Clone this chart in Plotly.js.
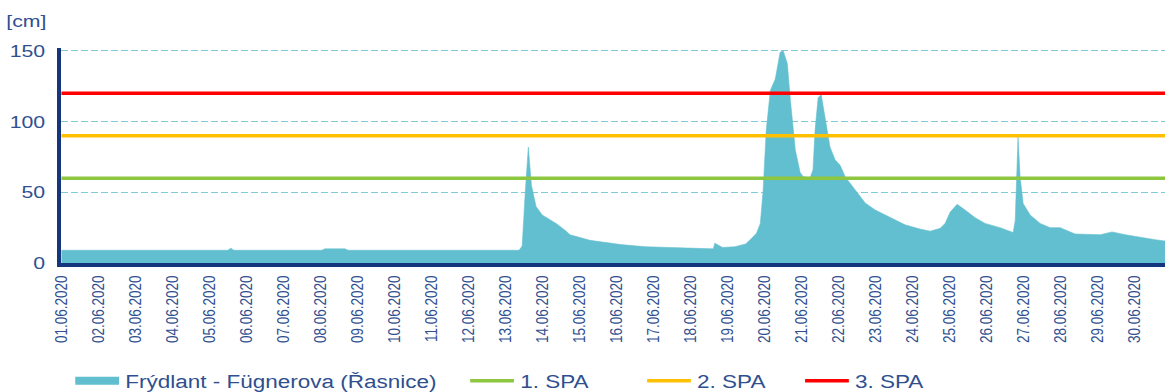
<!DOCTYPE html>
<html>
<head>
<meta charset="utf-8">
<script src="https://cdn.plot.ly/plotly-3.0.1.min.js"></script>
<style>
  html, body { margin: 0; padding: 0; background: #ffffff; overflow: hidden; }
  /* the reference picture is horizontally stretched by 1.25 */
  #chart { width: 932px; height: 400px; transform: scaleX(1.25); transform-origin: 0 0; }
</style>
</head>
<body>
<div id="chart"></div>
<script>
// ---- data ----
const seriesName = 'Frýdlant - Fügnerova (Řasnice)';
const times = [
  '2020-06-01 00:00','2020-06-05 12:00','2020-06-05 14:00','2020-06-05 16:00',
  '2020-06-08 01:00','2020-06-08 03:00','2020-06-08 16:00','2020-06-08 18:00',
  '2020-06-13 09:00','2020-06-13 11:00','2020-06-13 13:00','2020-06-13 15:00',
  '2020-06-13 17:00','2020-06-13 20:00','2020-06-14 00:00','2020-06-14 06:00',
  '2020-06-14 09:00','2020-06-14 15:00','2020-06-14 18:00','2020-06-15 07:00',
  '2020-06-15 14:00','2020-06-16 03:00','2020-06-16 19:00','2020-06-17 18:00',
  '2020-06-18 13:00','2020-06-18 15:00','2020-06-18 16:00','2020-06-18 21:00',
  '2020-06-19 05:00','2020-06-19 12:00','2020-06-19 14:30','2020-06-19 19:00',
  '2020-06-19 21:30','2020-06-19 23:20','2020-06-20 01:20','2020-06-20 04:00',
  '2020-06-20 07:10','2020-06-20 10:20','2020-06-20 12:20','2020-06-20 15:00',
  '2020-06-20 16:50','2020-06-20 20:10','2020-06-20 23:20','2020-06-21 01:20',
  '2020-06-21 05:50','2020-06-21 07:40','2020-06-21 09:00','2020-06-21 11:00',
  '2020-06-21 13:00','2020-06-21 15:30','2020-06-21 18:40','2020-06-21 22:00',
  '2020-06-22 01:20','2020-06-22 04:30','2020-06-22 11:00','2020-06-22 17:30',
  '2020-06-23 00:00','2020-06-23 09:40','2020-06-23 19:20','2020-06-24 05:00',
  '2020-06-24 11:40','2020-06-24 18:10','2020-06-24 21:20','2020-06-25 00:40',
  '2020-06-25 05:10','2020-06-25 10:20','2020-06-25 16:50','2020-06-25 23:20',
  '2020-06-26 09:00','2020-06-26 17:30','2020-06-26 18:50','2020-06-26 20:40',
  '2020-06-26 22:00','2020-06-27 00:00','2020-06-27 04:30','2020-06-27 11:00',
  '2020-06-27 17:30','2020-06-28 00:00','2020-06-28 09:40','2020-06-29 02:00',
  '2020-06-29 09:40','2020-06-29 18:10','2020-06-30 04:00','2020-06-30 13:40',
  '2020-06-30 20:00'
];
const levels = [
  9, 9, 10.5, 9,
  9, 10, 10, 9,
  9, 12, 50, 82,
  55, 40, 34, 30,
  28, 23, 20, 16,
  15, 13, 11.5, 10.5,
  10, 10, 14, 11,
  11.5, 13.5, 16, 21,
  28, 52, 94, 122,
  130, 149, 150, 141,
  117, 80, 64, 61,
  60.5, 66, 94, 117,
  119, 103, 82, 73,
  69, 61, 52, 42.5,
  37.5, 32, 27, 24,
  22.5, 24.5, 28, 36,
  41.5, 37.5, 32, 28,
  25, 21.5, 30, 89,
  61, 42, 34, 28,
  25, 25, 20.5, 20,
  22, 20, 18.5, 16.5,
  15.5
];
const spaNames = ['1. SPA', '2. SPA', '3. SPA'];
const spaLevels = [60, 90, 120];
const spaColors = ['#8DC63F', '#FFC000', '#FF0000'];
const spanStart = '2020-06-01 00:00';
const spanEnd = '2020-06-30 20:00';
const yTicks = [0, 50, 100, 150];
const yUnit = '[cm]';

// ---- styling ----
const textColor = '#2F4F8F';
const axisColor = '#16357F';
const fillColor = '#62BFCF';
const font = 'Liberation Sans, Arial, sans-serif';
const legendX = [0.0127, 0.3705, 0.5308, 0.6739];
const legendY = -0.549;

const traces = [{
  type: 'scatter', mode: 'lines', name: seriesName,
  x: times, y: levels,
  fill: 'tozeroy', fillcolor: fillColor,
  line: { color: fillColor, width: 0.5, shape: 'linear' },
  legend: 'legend'
}];
spaNames.forEach((n, i) => {
  traces.push({
    type: 'scatter', mode: 'lines', name: n,
    x: [spanStart, spanEnd], y: [spaLevels[i], spaLevels[i]],
    line: { color: spaColors[i], width: 3.5 },
    legend: 'legend' + (i + 2)
  });
});

function legendAt(x) {
  return {
    orientation: 'h', x: x, xanchor: 'left', y: legendY, yanchor: 'middle',
    font: { family: font, size: 18, color: textColor },
    bgcolor: 'rgba(0,0,0,0)', borderwidth: 0
  };
}

const layout = {
  width: 932, height: 400,
  margin: { l: 49, r: 0, t: 48, b: 137, pad: 0 },
  paper_bgcolor: '#ffffff', plot_bgcolor: '#ffffff',
  font: { family: font, color: textColor, size: 17 },
  showlegend: true,
  legend: legendAt(legendX[0]),
  legend2: legendAt(legendX[1]),
  legend3: legendAt(legendX[2]),
  legend4: legendAt(legendX[3]),
  xaxis: {
    type: 'date',
    range: [spanStart, spanEnd],
    tickformat: '%d.%m.%Y',
    dtick: 86400000,
    tick0: spanStart,
    tickangle: -90,
    tickfont: { family: font, size: 13.5, color: textColor },
    ticks: '', ticklabelstandoff: 3,
    showgrid: false, zeroline: false,
    showline: true, linecolor: axisColor, linewidth: 4
  },
  yaxis: {
    range: [0, 152],
    tickvals: yTicks,
    tickfont: { family: font, size: 17, color: textColor },
    ticks: '', ticklabelstandoff: 6,
    showgrid: true, gridcolor: '#80CCD6', griddash: '5px,3px', gridwidth: 1.2,
    zeroline: false,
    showline: true, linecolor: axisColor, linewidth: 3.5
  },
  annotations: [{
    text: yUnit, xref: 'paper', yref: 'paper',
    x: -0.052, y: 1.125, xanchor: 'left', yanchor: 'middle',
    showarrow: false, font: { family: font, size: 17, color: textColor }
  }]
};

Plotly.newPlot('chart', traces, layout, { displayModeBar: false, staticPlot: true }).then(gd => {
  // longer legend swatches, as in the reference
  gd.querySelectorAll('.legendlines path').forEach(p => p.setAttribute('d', 'M-5,0h40'));
  gd.querySelectorAll('.legendfill path').forEach(p => p.setAttribute('d', 'M-5,-4h40v8h-40z'));
});
</script>
</body>
</html>
